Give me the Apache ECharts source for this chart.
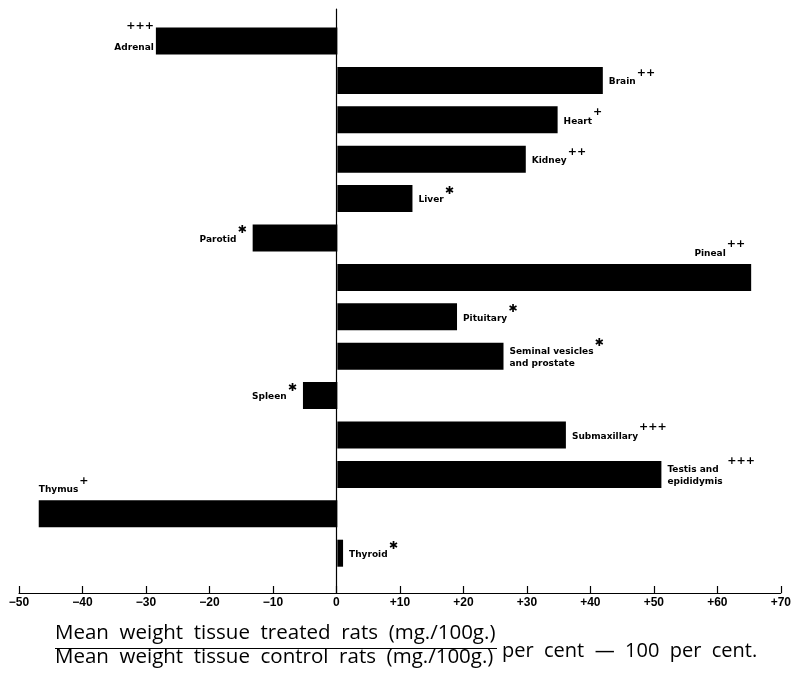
<!DOCTYPE html>
<html><head><meta charset="utf-8">
<script src="https://cdn.jsdelivr.net/npm/echarts@6/dist/echarts.min.js"></script>
<style>html,body{margin:0;padding:0;background:#fff}#c{width:794px;height:678px}</style>
</head><body><div id="c"></div>
<script>
// ---- data ----
const tissues = ['Adrenal','Brain','Heart','Kidney','Liver','Parotid','Pineal','Pituitary',
  'Seminal vesicles\nand prostate','Spleen','Submaxillary','Testis and\nepididymis','Thymus','Thyroid'];
const changePct = [-28.5, 41.7, 34.6, 29.6, 11.8, -13.3, 65.0, 18.8, 26.1, -5.4, 35.9, 50.9, -46.9, 0.9];
const significance = ['+++','++','+','++','✱','✱','++','✱','✱','✱','+++','+++','+','✱'];
const xTickLabels = ['−50','−40','−30','−20','−10','0','+10','+20','+30','+40','+50','+60','+70'];
const xMin = -50, xMax = 70, xStep = 10;

// ---- label builder ----
function labelText(i){
  const lines = tissues[i].split('\n');
  const sup = significance[i];
  if (tissues[i] === 'Adrenal') return '{s|' + sup + '}\n{n|' + lines[0] + '}';
  let first = '{n|' + lines[0] + '}{s|' + (lines.length > 1 && tissues[i].startsWith('Testis') ? '  ' : '') + sup + '}';
  let rest = lines.slice(1).map(l => '{n|' + l + '}');
  return [first].concat(rest).join('\n');
}
const rich = {
  n: {fontFamily:'DejaVu Sans', fontWeight:'bold', fontSize:9, color:'#000', lineHeight:12, verticalAlign:'bottom'},
  s: {fontFamily:'DejaVu Sans', fontWeight:'bold', fontSize:11, color:'#000', lineHeight:12, padding:[0,0,8,1], verticalAlign:'bottom'}
};
const barData = changePct.map((v, i) => {
  const item = {value: v, label: {formatter: labelText(i)}};
  if (tissues[i] === 'Pineal') {
    item.label.position = ['100%', 0]; item.label.align = 'right'; item.label.verticalAlign = 'bottom';
    item.label.offset = [-6, -6];
  } else if (tissues[i] === 'Thymus') {
    item.label.position = [0, 0]; item.label.align = 'left'; item.label.verticalAlign = 'bottom';
    item.label.offset = [0, -6];
  } else if (tissues[i] === 'Adrenal') {
    item.label.position = 'left'; item.label.align = 'right'; item.label.offset = [4, -1];
  } else {
    item.label.position = v < 0 ? 'left' : 'right';
    item.label.offset = [0, 0];
  }
  return item;
});

const chart = echarts.init(document.getElementById('c'), null, {renderer:'canvas'});
chart.setOption({
  backgroundColor: '#fff',
  animation: false,
  grid: [
    {left: 19, right: 11, top: 21.3, bottom: 105.1},
    {left: 19, right: 11, top: 9, bottom: 85}
  ],
  xAxis: [
    {gridIndex: 0, type:'value', min: xMin, max: xMax, interval: xStep, show: false},
    {gridIndex: 1, type:'value', min: xMin, max: xMax, interval: xStep,
      axisLine: {show: true, lineStyle: {color:'#000', width: 1.2}},
      axisTick: {show: true, inside: true, length: 7, lineStyle: {color:'#000', width: 1.2}},
      splitLine: {show: false},
      axisLabel: {color:'#000', fontFamily:'Liberation Sans', fontWeight:'bold', fontSize: 12, margin: 4,
        formatter: v => xTickLabels[Math.round((v - xMin) / xStep)]}
    }
  ],
  yAxis: [
    {gridIndex: 0, type:'category', data: tissues, inverse: true, show: false},
    {gridIndex: 1, type:'value', min: 0, max: 1,
      axisLine: {show: true, onZero: true, lineStyle: {color:'#000', width: 1.2}},
      axisTick: {show: false}, axisLabel: {show: false}, splitLine: {show: false}}
  ],
  series: [{
    type: 'bar', xAxisIndex: 0, yAxisIndex: 0,
    data: barData, barWidth: 27,
    itemStyle: {color: '#000'},
    label: {show: true, distance: 6, rich: rich}
  }],
  graphic: [
    {type:'text', left: 55, top: 623, style: {text:'Mean  weight  tissue  treated  rats  (mg./100g.)', fontFamily:'Open Sans', fontSize: 20.5, fill:'#000'}},
    {type:'line', shape: {x1: 55, y1: 648.5, x2: 497, y2: 648.5}, style: {stroke:'#000', lineWidth: 1}},
    {type:'text', left: 55, top: 647, style: {text:'Mean  weight  tissue  control  rats  (mg./100g.)', fontFamily:'Open Sans', fontSize: 20.5, fill:'#000'}},
    {type:'text', left: 502, top: 641, style: {text:'per  cent  —  100  per  cent.', fontFamily:'Open Sans', fontSize: 20, fill:'#000'}}
  ]
});
</script></body></html>
